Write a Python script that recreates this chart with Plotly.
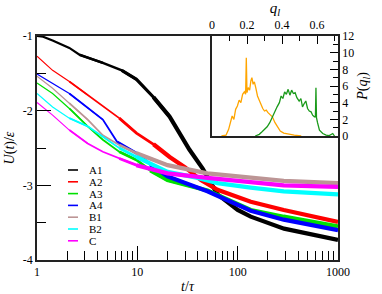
import plotly.graph_objects as go

# ---------------- data ----------------
series_names = ["A1", "A2", "A3", "A4", "B1", "B2", "C"]
series_colors = ["#000000", "#ff0000", "#00e000", "#0000ff", "#bc9595", "#00ffff", "#ff00ff"]

t_A1 = [1, 1.15, 1.43, 2.1, 2.65, 4.53, 7.0, 9.8, 14.5, 21, 33, 45, 63, 100, 135, 290, 1000]
U_A1 = [-1.0, -1.01, -1.06, -1.16, -1.25, -1.36, -1.46, -1.58, -1.82, -2.08, -2.52, -2.78, -3.12, -3.33, -3.42, -3.58, -3.73]

t_A2 = [1, 1.43, 2.1, 3.2, 4.53, 6.6, 9.8, 14.5, 21, 30, 43, 63, 135, 288, 1000]
U_A2 = [-1.27, -1.46, -1.61, -1.79, -1.95, -2.10, -2.30, -2.45, -2.62, -2.76, -2.93, -3.06, -3.22, -3.33, -3.49]

t_A3 = [1, 1.43, 2.1, 3.2, 4.53, 6.6, 9.8, 13.5, 20, 50, 135, 288, 1000]
U_A3 = [-1.63, -1.77, -1.97, -2.21, -2.39, -2.55, -2.66, -2.80, -2.93, -3.07, -3.33, -3.42, -3.55]

t_A4 = [1, 2.1, 4.53, 6.3, 8.0, 9.8, 13.5, 20, 50, 135, 288, 1000]
U_A4 = [-1.51, -1.77, -2.12, -2.42, -2.50, -2.57, -2.72, -2.88, -3.08, -3.34, -3.46, -3.60]

t_B1 = [1, 1.43, 2.1, 3.2, 4.53, 6.6, 9.8, 20, 50, 135, 288, 1000]
U_B1 = [-1.54, -1.70, -1.90, -2.12, -2.33, -2.46, -2.57, -2.73, -2.84, -2.90, -2.94, -2.97]

t_B2 = [1, 1.43, 2.1, 3.2, 4.53, 6.6, 9.8, 20, 40, 63, 135, 288, 1000]
U_B2 = [-1.77, -1.95, -2.10, -2.21, -2.35, -2.50, -2.62, -2.82, -2.90, -2.97, -3.03, -3.08, -3.12]

t_C = [1, 1.43, 2.1, 3.2, 4.53, 6.6, 9.8, 20, 50, 135, 288, 1000]
U_C = [-1.89, -2.06, -2.26, -2.44, -2.55, -2.64, -2.73, -2.84, -2.90, -2.96, -3.00, -3.02]

series_t = [t_A1, t_A2, t_A3, t_A4, t_B1, t_B2, t_C]
series_U = [U_A1, U_A2, U_A3, U_A4, U_B1, U_B2, U_C]

# inset: distributions P(q_l)
q_orange = [0.054, 0.08, 0.095, 0.105, 0.115, 0.125, 0.135, 0.145, 0.155, 0.165, 0.175, 0.185,
            0.192, 0.196, 0.200, 0.207, 0.215, 0.222, 0.228, 0.235, 0.242, 0.25, 0.26, 0.27,
            0.28, 0.29, 0.30, 0.31, 0.32, 0.33, 0.345, 0.36, 0.375, 0.39, 0.41, 0.44, 0.47, 0.51]
P_orange = [0, 0.1, 0.8, 1.7, 2.4, 2.0, 3.2, 3.6, 4.3, 4.0, 5.0, 5.3,
            5.0, 9.4, 5.2, 5.8, 5.5, 6.6, 7.0, 6.2, 6.5, 5.8, 4.8, 4.3,
            3.7, 3.3, 3.0, 3.1, 2.8, 2.6, 2.3, 1.6, 1.1, 0.6, 0.35, 0.2, 0.1, 0]

q_green = [0.247, 0.27, 0.286, 0.30, 0.315, 0.33, 0.344, 0.358, 0.372, 0.385, 0.395, 0.405,
           0.415, 0.425, 0.435, 0.445, 0.455, 0.465, 0.475, 0.485, 0.498, 0.508, 0.517, 0.527,
           0.536, 0.546, 0.556, 0.566, 0.575, 0.585, 0.591, 0.594, 0.597, 0.603, 0.614, 0.633,
           0.652, 0.67, 0.69, 0.70]
P_green = [0, 0.2, 0.5, 0.8, 1.1, 1.6, 2.3, 2.9, 3.5, 4.0, 4.8, 4.5,
           5.3, 5.0, 5.6, 4.9, 5.5, 5.1, 5.2, 4.6, 4.2, 4.5, 3.5, 3.9,
           4.2, 3.3, 3.0, 2.9, 2.5, 2.3, 2.3, 5.8, 2.2, 1.6, 0.7, 0.3,
           0.1, 0.05, 0.3, 0]

x_tickvals = [1, 10, 100, 1000]
x_ticktext = ["1", "10", "100", "1000"]
y_tickvals = [-1, -2, -3, -4]
y_ticktext = ["-1", "-2", "-3", "-4"]
q_tickvals = [0, 0.2, 0.4, 0.6]
q_ticktext = ["0", "0.2", "0.4", "0.6"]
P_tickvals = [0, 2, 4, 6, 8, 10, 12]

# ---------------- figure ----------------
W, H = 382, 294
L, R, T, B = 37, 338, 36, 260
FONT = "Liberation Serif"


def px_x(p):
    return min(1.0, max(0.0, (p - L) / (R - L)))


def px_y(p):
    return min(1.0, max(0.0, (B - p) / (B - T)))


fig = go.Figure()

# noisy curves: thin at early times, progressively wider band later on
bounds = [0, 3, 8, 20, 1e9]
for name, col, ts, us in zip(series_names, series_colors, series_t, series_U):
    widths = [2.2, 2.6, 3.2, 4.2] if name == "A1" else [1.2, 1.8, 2.8, 4.2]
    for k in range(len(bounds) - 1):
        lo, hi = bounds[k], bounds[k + 1]
        idx = [i for i, tv in enumerate(ts) if lo <= tv <= hi]
        if not idx:
            continue
        if idx[0] > 0:
            idx = [idx[0] - 1] + idx
        if idx[-1] < len(ts) - 1:
            idx = idx + [idx[-1] + 1]
        fig.add_trace(go.Scatter(
            x=[ts[i] for i in idx], y=[us[i] for i in idx], mode="lines",
            line=dict(color=col, width=widths[k]), name=name,
            legendgroup=name, showlegend=False, hoverinfo="skip",
            xaxis="x", yaxis="y"))

fig.add_trace(go.Scatter(x=q_orange, y=P_orange, mode="lines",
                         line=dict(color="#ffa500", width=1.3),
                         showlegend=False, xaxis="x2", yaxis="y2"))
fig.add_trace(go.Scatter(x=q_green, y=P_green, mode="lines",
                         line=dict(color="#1a9a1a", width=1.3),
                         showlegend=False, xaxis="x2", yaxis="y2"))

shapes = []
annotations = []
# hand-placed compact legend
for i, (name, col) in enumerate(zip(series_names, series_colors)):
    yy = px_y(170 + 11.8 * i)
    shapes.append(dict(type="line", xref="paper", yref="paper",
                       x0=px_x(68), x1=px_x(78), y0=yy, y1=yy,
                       line=dict(color=col, width=1.6)))
    annotations.append(dict(text=name, xref="paper", yref="paper",
                            x=px_x(87), y=yy, xanchor="left", yanchor="middle",
                            showarrow=False, font=dict(family=FONT, size=11, color="black")))

# white backing for inset
ix0, ix1, iy0, iy1 = 212, 338, 36, 136
shapes.append(dict(type="rect", xref="paper", yref="paper",
                   x0=px_x(ix0), x1=px_x(ix1), y0=px_y(iy1), y1=px_y(iy0),
                   fillcolor="white", line=dict(width=0), layer="below"))

axis_common = dict(showline=True, linecolor="#222222", linewidth=1.6, mirror=True,
                   showgrid=False, zeroline=False, ticks="inside", tickcolor="black",
                   tickwidth=1.3, tickfont=dict(family=FONT, size=12, color="black"),
                   automargin=False)

fig.update_layout(
    width=W, height=H,
    margin=dict(l=L, r=W - R, t=T, b=H - B, pad=0),
    paper_bgcolor="white", plot_bgcolor="white",
    font=dict(family=FONT, color="black"),
    showlegend=False,
    xaxis=dict(type="log", range=[0, 3], domain=[0, 1], anchor="y",
               tickvals=x_tickvals, ticktext=x_ticktext, ticklen=14,
               minor=dict(ticks="inside", ticklen=9, tickwidth=1.3, tickcolor="black",
                          tickvals=[2, 3, 4, 5, 6, 7, 8, 9, 20, 30, 40, 50, 60, 70, 80, 90,
                                    200, 300, 400, 500, 600, 700, 800, 900]),
               title=dict(text="<i>t</i>/<i>τ</i>", font=dict(family=FONT, size=14), standoff=7),
               **axis_common),
    yaxis=dict(range=[-4, -1], domain=[0, 1], anchor="x",
               tickvals=y_tickvals, ticktext=y_ticktext, ticklen=14,
               minor=dict(ticks="inside", ticklen=9, tickwidth=1.3, tickcolor="black",
                          tickvals=[-1.5, -2.5, -3.5]),
               title=dict(text="<i>U</i>(<i>t</i>)/<i>ε</i>", font=dict(family=FONT, size=14), standoff=5),
               **axis_common),
    xaxis2=dict(range=[0, 0.72], domain=[px_x(ix0), px_x(ix1)], anchor="y2", side="top",
                tickvals=q_tickvals, ticktext=q_ticktext, ticklen=8,
                minor=dict(ticks="inside", ticklen=5, tickwidth=1.2, tickcolor="black",
                           tickvals=[0.1, 0.3, 0.5, 0.7]),
                title=dict(text="<i>q<sub>l</sub></i>", font=dict(family=FONT, size=15), standoff=4),
                **axis_common),
    yaxis2=dict(range=[0, 12], domain=[px_y(iy1), px_y(iy0)], anchor="x2", side="right",
                tickvals=P_tickvals, ticklen=8,
                minor=dict(ticks="inside", ticklen=5, tickwidth=1.2, tickcolor="black",
                           tickvals=[1, 3, 5, 7, 9, 11]),
                title=dict(text="<i>P</i>(<i>q<sub>l</sub></i>)", font=dict(family=FONT, size=14), standoff=4),
                **axis_common),
    shapes=shapes,
    annotations=annotations,
)

fig.write_html("out.html", config={"displayModeBar": False},
               post_script="document.body.style.margin='0';")
